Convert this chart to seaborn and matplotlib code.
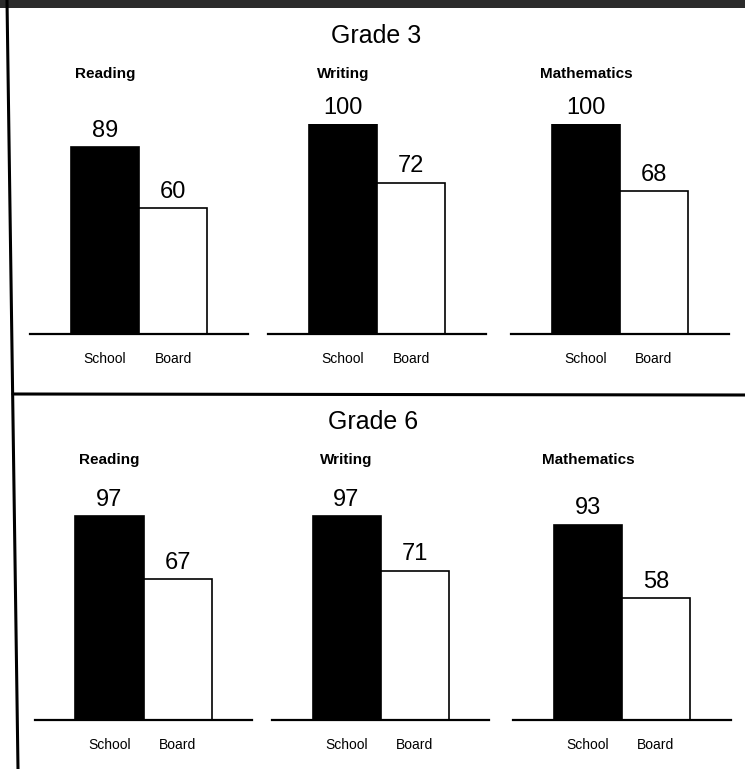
import numpy as np
import pandas as pd
import matplotlib
matplotlib.use('Agg')
import matplotlib.pyplot as plt
import seaborn as sns
from matplotlib.lines import Line2D
from matplotlib.patches import Rectangle

# data
grades = ['Grade 3', 'Grade 6']
subjects = ['Reading', 'Writing', 'Mathematics']
groups = ['School', 'Board']
school_g3 = [89, 100, 100]
board_g3 = [60, 72, 68]
school_g6 = [97, 97, 93]
board_g6 = [67, 71, 58]

sns.set_style('white')
plt.rcParams['font.family'] = ['Liberation Sans', 'DejaVu Sans']
plt.rcParams['text.color'] = 'black'
plt.rcParams['xtick.color'] = 'black'
plt.rcParams['axes.labelcolor'] = 'black'

W, H = 745, 769
unit = 68          # px per bar
full = 210         # px for a score of 100

fig = plt.figure(figsize=(W / 100, H / 100), dpi=100)

# layout of each grade panel (pixel positions)
panels = [
    {'grade': grades[0], 'school': school_g3, 'board': board_g3,
     'centers': [105, 343, 586], 'base': 334, 'title_y': 43, 'title_x': 376},
    {'grade': grades[1], 'school': school_g6, 'board': board_g6,
     'centers': [109.5, 346.5, 588], 'base': 720, 'title_y': 429, 'title_x': 373},
]

for panel in panels:
    fig.text(panel['title_x'] / W, 1 - panel['title_y'] / H, panel['grade'],
             ha='center', va='baseline', fontsize=18)
    for k, subject in enumerate(subjects):
        left = panel['centers'][k] - 1.1 * unit
        ax = fig.add_axes([left / W, (H - panel['base']) / H, 3.2 * unit / W, full / H])
        vals = [panel['school'][k], panel['board'][k]]
        df = pd.DataFrame({'group': groups, 'score': vals})
        sns.barplot(data=df, x='group', y='score', hue='group', palette=['black', 'white'],
                    edgecolor='black', linewidth=1.2, width=1.0, legend=False, ax=ax)
        ax.set_xlim(-1.1, 2.1)
        ax.set_ylim(0, 100)
        sns.despine(ax=ax, left=True)
        ax.spines['bottom'].set_linewidth(1.6)
        ax.spines['bottom'].set_color('black')
        ax.set_yticks([])
        ax.set_xlabel('')
        ax.set_ylabel('')
        ax.tick_params(axis='x', length=0, pad=13, labelsize=10, labelcolor='black')
        for p, v in zip(ax.patches, vals):
            ax.annotate(str(v), (p.get_x() + p.get_width() / 2, v), xytext=(0, 7.5),
                        textcoords='offset points', ha='center', va='baseline', fontsize=17)
        # subject heading sits over the School bar
        ax.text(0.0, 256 / full, subject, transform=ax.get_xaxis_transform(), ha='center',
                va='baseline', fontsize=11, fontweight='bold')

# scanned page borders
fig.add_artist(Rectangle((0, 1 - 8 / H), 1, 8 / H, transform=fig.transFigure,
                         facecolor='#2b2b2b', edgecolor='none'))
fig.add_artist(Line2D([7 / W, 18 / W], [1, 0], transform=fig.transFigure,
                      color='black', linewidth=2.2))
fig.add_artist(Line2D([13 / W, 1], [1 - 394 / H, 1 - 395 / H], transform=fig.transFigure,
                      color='black', linewidth=2.2))

fig.savefig('out.png', dpi=100)
